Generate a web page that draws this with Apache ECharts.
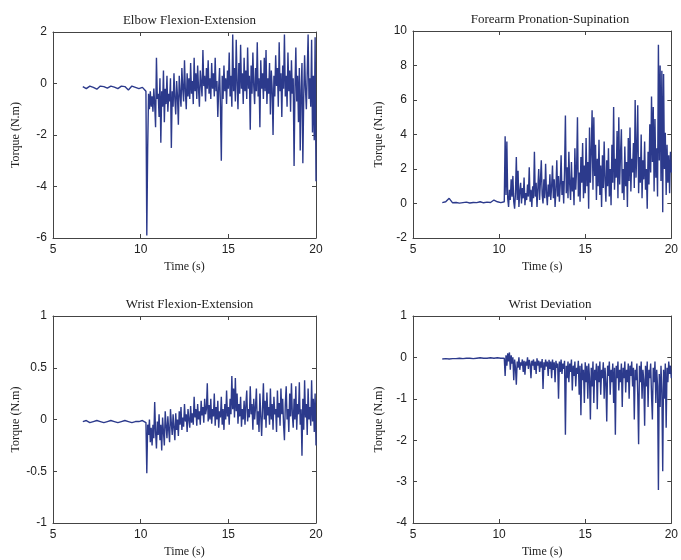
<!DOCTYPE html>
<html><head><meta charset="utf-8">
<script src="https://cdn.jsdelivr.net/npm/echarts@6/dist/echarts.min.js"></script>
<style>html,body{margin:0;padding:0;background:#fff}#c{width:681px;height:560px}</style>
</head><body><div id="c"></div>
<script>
const titles = ['Elbow Flexion-Extension','Forearm Pronation-Supination','Wrist Flexion-Extension','Wrist Deviation'];
const xTicks = [5,10,15,20];
const yRanges = [[-6,2,2],[-2,10,2],[-1,1,0.5],[-4,1,1]];

const time = [6.7,6.9,7.1,7.3,7.5,7.7,7.9,8.1,8.3,8.5,8.7,8.9,9.1,9.3,9.5,9.7,9.9,10.1,10.3,
10.35,10.4,10.45,10.5,10.55,10.6,10.65,10.7,10.75,10.8,10.85,10.9,10.95,
11,11.05,11.1,11.15,11.2,11.25,11.3,11.35,11.4,11.45,11.5,11.55,11.6,11.65,11.7,11.75,11.8,11.85,11.9,11.95,
12,12.05,12.1,12.15,12.2,12.25,12.3,12.35,12.4,12.45,12.5,12.55,12.6,12.65,12.7,12.75,12.8,12.85,12.9,12.95,
13,13.05,13.1,13.15,13.2,13.25,13.3,13.35,13.4,13.45,13.5,13.55,13.6,13.65,13.7,13.75,13.8,13.85,13.9,13.95,
14,14.05,14.1,14.15,14.2,14.25,14.3,14.35,14.4,14.45,14.5,14.55,14.6,14.65,14.7,14.75,14.8,14.85,14.9,14.95,
15,15.05,15.1,15.15,15.2,15.25,15.3,15.35,15.4,15.45,15.5,15.55,15.6,15.65,15.7,15.75,15.8,15.85,15.9,15.95,
16,16.05,16.1,16.15,16.2,16.25,16.3,16.35,16.4,16.45,16.5,16.55,16.6,16.65,16.7,16.75,16.8,16.85,16.9,16.95,
17,17.05,17.1,17.15,17.2,17.25,17.3,17.35,17.4,17.45,17.5,17.55,17.6,17.65,17.7,17.75,17.8,17.85,17.9,17.95,
18,18.05,18.1,18.15,18.2,18.25,18.3,18.35,18.4,18.45,18.5,18.55,18.6,18.65,18.7,18.75,18.8,18.85,18.9,18.95,
19,19.05,19.1,19.15,19.2,19.25,19.3,19.35,19.4,19.45,19.5,19.55,19.6,19.65,19.7,19.75,19.8,19.85,19.9,19.95,
20];

const elbow = [-0.12,-0.2,-0.1,-0.15,-0.22,-0.1,-0.12,-0.18,-0.1,-0.14,-0.2,-0.1,-0.12,-0.25,-0.1,-0.15,-0.2,-0.15,-0.3,
-5.9,-2.5,-0.4,-1.0,-0.3,-0.9,-0.5,-1.1,-0.2,-0.8,-1.7,1.0,-0.6,
-0.4,-1.3,0.2,-2.3,-0.3,-0.9,0.5,-1.5,-0.2,-0.8,0.3,-1.1,-0.4,-0.7,0.2,-2.5,-0.3,-0.9,0.4,-0.6,
-1.2,0.1,-0.5,-1.6,0.3,-0.4,-0.9,0.6,-0.2,-0.7,0.9,-0.3,-1.0,0.4,-0.5,0.2,-0.6,0.8,-0.4,0.1,
-0.8,1.0,-0.3,0.4,-0.6,0.7,-0.2,-0.9,0.5,0.0,-0.5,1.3,-0.1,0.3,-0.7,0.6,-0.2,0.9,-0.4,0.2,
-0.6,0.8,-0.2,0.4,-0.5,1.0,-0.3,0.1,-1.3,-0.2,0.6,-0.9,-3.0,0.3,-0.6,0.7,-0.3,0.2,-0.8,0.5,
-0.2,1.2,-0.5,0.3,-0.9,1.9,-0.3,0.6,-0.7,1.7,0.0,-1.0,0.8,-0.4,1.5,-0.2,0.4,-0.8,1.0,-0.3,
0.5,-0.6,1.4,-0.2,0.3,-1.8,0.7,-0.4,1.2,-0.1,-0.8,0.6,-0.3,1.6,-0.5,0.2,-1.7,0.9,-0.2,0.4,
-0.6,1.0,-0.3,1.3,-0.8,0.2,-0.4,0.8,-1.2,0.5,-0.2,-2.0,0.3,-0.5,1.1,-0.1,0.6,-0.9,1.6,-0.3,
0.4,-1.3,0.7,-0.2,1.9,-0.5,0.3,-0.9,1.2,-0.3,0.5,-1.1,0.9,-0.4,0.2,-3.2,-0.2,1.4,-0.7,0.3,
-1.5,0.6,-2.6,-0.3,0.8,-3.1,-0.5,1.1,-0.2,-1.0,0.4,1.9,-0.6,0.2,-0.9,1.7,-1.9,0.3,-2.2,1.8,
-3.8];

const forearm = [0.05,0.1,0.3,0.04,0.06,0.02,0.05,0.08,0.03,0.06,0.05,0.1,0.04,0.08,0.06,0.2,0.1,0.05,0.1,
3.9,0.5,3.6,0.3,-0.2,0.8,0.2,1.4,0.4,1.6,0.1,-0.3,0.6,
2.7,0.2,1.9,-0.2,0.7,1.2,0.0,0.9,0.3,1.5,-0.1,0.6,0.2,1.1,0.4,2.1,0.1,0.8,-0.2,1.0,
0.3,3.0,0.4,1.2,-0.2,0.9,2.0,0.2,1.3,2.5,0.5,0.0,1.4,0.3,2.3,0.6,-0.1,1.1,0.4,1.7,
0.2,1.0,2.2,0.3,1.4,-0.2,0.8,2.5,0.4,1.6,0.1,1.1,2.8,0.5,1.3,0.0,1.9,5.1,0.6,2.1,
0.3,3.0,1.1,0.2,2.4,0.7,1.5,-0.1,3.2,0.8,2.0,5.0,0.4,1.8,0.1,2.7,1.2,3.5,0.3,2.2,
0.6,3.8,1.0,2.4,-0.3,4.4,1.2,3.0,5.4,0.8,5.0,1.6,3.4,0.2,2.6,1.0,3.7,0.5,2.2,-0.2,
2.8,0.9,3.6,1.4,0.1,2.5,1.0,3.2,0.4,2.0,-0.1,3.4,1.2,5.6,0.8,2.6,1.5,4.2,0.3,5.0,
1.1,2.9,4.3,0.6,2.0,0.2,3.3,1.0,2.4,-0.2,3.8,1.3,4.4,0.7,2.6,1.8,3.5,0.9,6.0,1.5,
3.2,5.7,0.6,2.7,1.2,4.0,0.3,2.5,1.4,3.6,0.8,2.0,-0.3,3.0,1.1,4.6,1.8,6.2,2.4,5.6,
0.7,4.9,1.5,3.2,0.4,9.2,2.5,8.0,1.3,7.7,-0.5,7.5,2.0,4.1,0.5,3.4,1.2,2.8,0.6,3.0,
1.8];

const wristFlex = [-0.02,-0.01,-0.03,-0.02,-0.01,-0.02,-0.03,-0.02,-0.01,-0.02,-0.03,-0.02,-0.01,-0.02,-0.03,-0.02,-0.02,-0.01,-0.03,
-0.52,-0.05,-0.15,0.0,-0.22,-0.08,-0.25,-0.05,-0.18,0.17,-0.12,-0.28,-0.02,
-0.15,0.05,-0.2,-0.05,-0.3,0.02,-0.12,-0.25,0.08,-0.06,-0.18,0.03,-0.1,-0.22,0.1,-0.04,-0.15,0.05,-0.08,-0.2,
0.06,-0.1,0.0,-0.16,0.08,-0.05,0.12,-0.1,0.02,-0.07,0.15,-0.02,0.05,-0.12,0.1,0.0,-0.08,0.13,-0.03,0.06,
-0.05,0.22,0.02,0.1,-0.06,0.15,0.0,0.08,-0.05,0.18,0.04,0.12,-0.03,0.2,0.05,0.1,0.35,-0.02,0.14,0.0,
0.2,-0.04,0.1,0.03,0.25,-0.06,0.12,0.0,0.18,-0.08,0.08,0.02,0.22,-0.05,0.1,-0.1,0.15,0.0,0.28,0.03,
0.12,-0.05,0.2,0.05,0.42,0.1,0.3,0.02,0.4,0.08,0.25,-0.04,0.15,0.03,0.22,-0.07,0.1,0.0,0.18,-0.05,
0.14,0.28,-0.02,0.1,0.02,0.32,0.05,0.15,-0.1,0.2,0.0,0.12,0.3,-0.05,0.08,-0.12,0.25,0.03,-0.16,0.1,
0.35,0.0,0.18,-0.08,0.26,0.04,0.12,-0.05,0.3,0.0,0.15,-0.1,0.22,0.05,0.1,-0.12,0.28,0.02,0.16,-0.06,
0.3,0.05,0.2,-0.05,-0.2,0.15,0.32,0.0,0.1,-0.12,0.25,0.03,0.35,0.05,-0.08,0.2,0.0,0.32,-0.1,0.15,
0.05,0.36,-0.05,0.1,-0.35,0.2,-0.1,0.38,0.02,0.15,-0.15,0.3,0.0,0.12,-0.06,0.38,-0.02,0.2,-0.12,0.25,
-0.25];

const wristDev = [-0.04,-0.03,-0.04,-0.03,-0.03,-0.02,-0.03,-0.02,-0.02,-0.03,-0.02,-0.01,-0.02,-0.02,-0.01,-0.02,-0.01,-0.02,-0.02,
-0.45,0.05,-0.2,0.1,-0.1,0.12,-0.3,0.05,-0.15,0.0,-0.55,-0.05,-0.25,
-0.66,-0.1,-0.25,0.0,-0.3,-0.12,-0.2,-0.05,-0.35,-0.08,-0.42,-0.1,-0.2,0.0,-0.28,-0.06,-0.15,-0.5,-0.08,-0.2,
-0.05,-0.3,-0.1,-0.4,-0.02,-0.2,-0.08,-0.35,-0.1,-0.25,-0.04,-0.76,-0.12,-0.3,-0.05,-0.22,-0.1,-0.45,-0.06,-0.28,
-0.1,-0.5,-0.05,-0.3,-0.12,-0.6,-0.08,-0.25,-0.15,-1.0,-0.1,-0.35,-0.05,-0.4,-0.15,-0.28,-0.08,-1.87,-0.2,-0.5,
-0.1,-0.6,-0.15,-0.35,-0.05,-0.8,-0.2,-0.45,-0.1,-0.7,-0.25,-0.4,-0.08,-0.9,-0.2,-1.4,-0.15,-0.55,-0.3,-1.1,
-0.12,-0.6,-0.2,-1.0,-0.15,-0.5,-1.5,-0.25,-0.7,-0.1,-1.1,-0.3,-0.55,-0.15,-1.25,-0.2,-0.6,-0.1,-0.9,-0.3,
-0.5,-0.12,-1.0,-0.25,-0.6,-1.55,-0.2,-0.45,-0.1,-0.9,-0.3,-0.6,-0.15,-1.1,-0.25,-1.87,-0.2,-0.5,-0.1,-0.8,
-0.3,-0.6,-0.15,-1.2,-0.25,-0.5,-0.1,-0.85,-0.3,-0.6,-0.15,-1.0,-0.2,-0.45,-0.1,-0.7,-0.25,-1.5,-0.3,-0.55,
-0.15,-0.9,-2.1,-0.2,-0.6,-0.1,-1.0,-0.3,-0.55,-1.65,-0.2,-0.7,-0.1,-1.2,-0.3,-0.5,-0.15,-0.9,-1.5,-0.25,
-0.6,-0.1,-1.1,-0.3,-0.7,-3.2,-0.4,-1.2,-0.2,-0.8,-2.75,-0.3,-1.0,-0.15,-1.7,-0.25,-0.6,-0.1,-0.4,-0.2,
-0.5];

const seriesValues = [elbow, forearm, wristFlex, wristDev];

const grids = [
  {left:53, top:32, width:263, height:206},
  {left:413, top:31, width:264, height:207},
  {left:53, top:316, width:263, height:207},
  {left:413, top:316, width:264, height:207}
];
const serif = 'Liberation Serif, Times New Roman, serif';
const sans = 'Liberation Sans, Arial, sans-serif';
const ink = '#222';
const frame = {show:true, onZero:false, lineStyle:{color:'#444', width:1}};
const ticks = {show:true, inside:true, length:4, lineStyle:{color:'#444'}};

const xAxis = [], yAxis = [], series = [], title = [];
grids.forEach((g, i) => {
  const [ymin, ymax, yint] = yRanges[i];
  xAxis.push({
    type:'value', gridIndex:i, min:xTicks[0], max:xTicks[xTicks.length-1], interval:5,
    position:'bottom',
    name:'Time (s)', nameLocation:'middle', nameGap:23,
    nameTextStyle:{fontFamily:serif, fontSize:12, color:ink},
    axisLine:frame, axisTick:ticks,
    axisLabel:{fontFamily:sans, fontSize:12, color:ink, margin:6},
    splitLine:{show:false}
  });
  xAxis.push({
    type:'value', gridIndex:i, min:xTicks[0], max:xTicks[xTicks.length-1], interval:5,
    position:'top',
    axisLine:frame, axisTick:ticks,
    axisLabel:{show:false}, splitLine:{show:false}
  });
  yAxis.push({
    type:'value', gridIndex:i, min:ymin, max:ymax, interval:yint,
    position:'left',
    name:'Torque (N.m)', nameLocation:'middle', nameGap: i%2===0 ? 31 : 28,
    nameTextStyle:{fontFamily:serif, fontSize:12, color:ink},
    axisLine:frame, axisTick:ticks,
    axisLabel:{fontFamily:sans, fontSize:12, color:ink, margin:6},
    splitLine:{show:false}
  });
  yAxis.push({
    type:'value', gridIndex:i, min:ymin, max:ymax, interval:yint,
    position:'right',
    axisLine:frame, axisTick:ticks,
    axisLabel:{show:false}, splitLine:{show:false}
  });
  title.push({
    text:titles[i], left:g.left + g.width/2, top:g.top - 23, textAlign:'center',
    textStyle:{fontFamily:serif, fontSize:13, fontWeight:'normal', color:ink}
  });
  series.push({
    type:'line', xAxisIndex:2*i, yAxisIndex:2*i,
    data: time.map((t, k) => [t, seriesValues[i][k]]),
    showSymbol:false, symbol:'none', animation:false,
    lineStyle:{color:'#2c3a8c', width:1.4},
    silent:true
  });
});

const chart = echarts.init(document.getElementById('c'), null, {renderer:'canvas'});
chart.setOption({
  backgroundColor:'#fff', animation:false,
  title, grid:grids, xAxis, yAxis, series
});
</script></body></html>
